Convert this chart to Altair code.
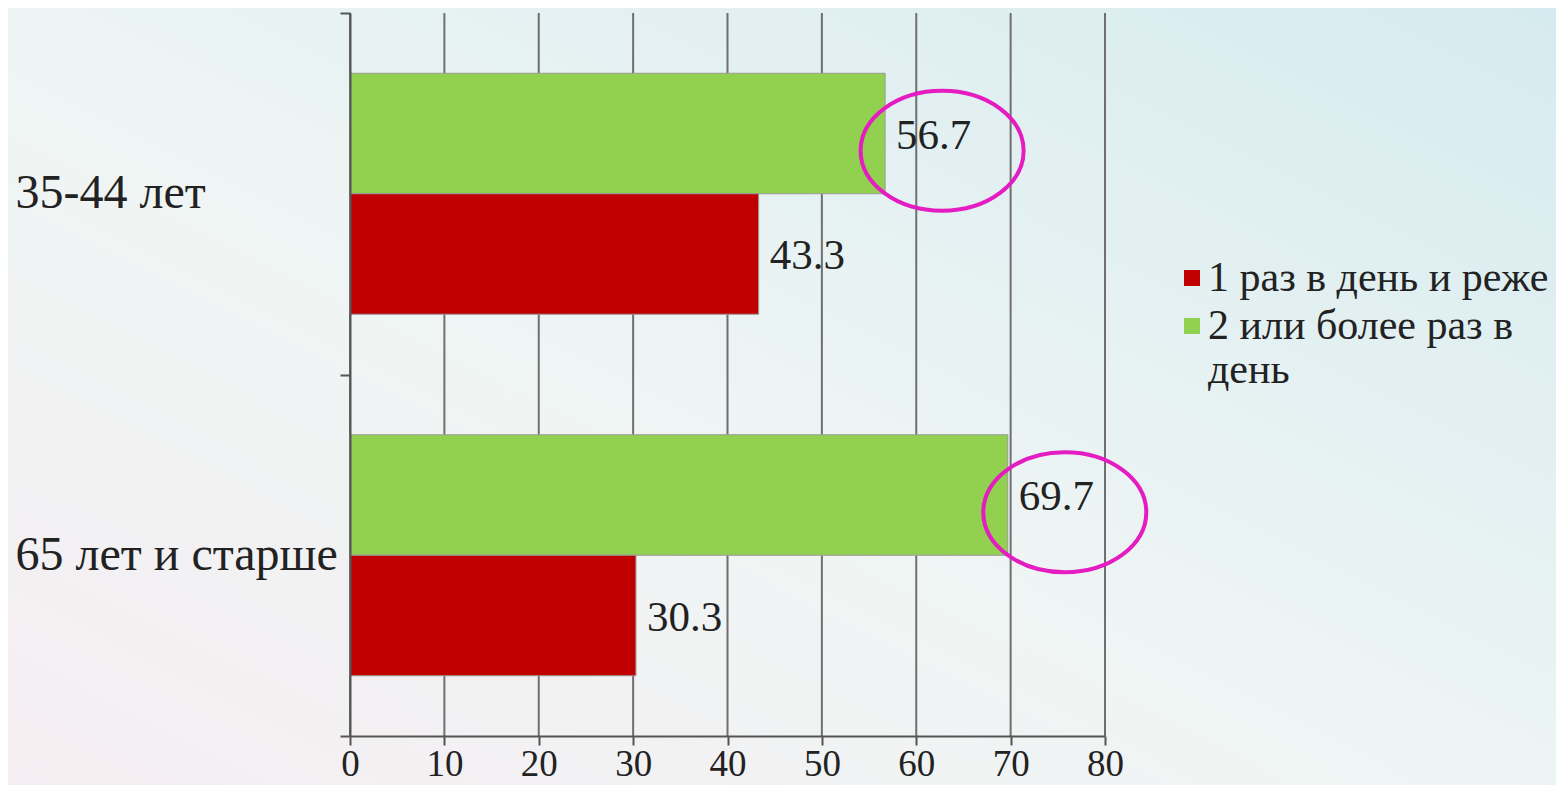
import altair as alt
import pandas as pd

categories = ["35-44 лет", "65 лет и старше"]
series = ["1 раз в день и реже", "2 или более раз в день"]
values_once = [43.3, 30.3]
values_twice = [56.7, 69.7]
x_ticks = [0, 10, 20, 30, 40, 50, 60, 70, 80]
highlighted = "2 или более раз в день"

rows = []
for i, c in enumerate(categories):
    rows.append({"cat": c, "series": series[1], "value": values_twice[i]})
    rows.append({"cat": c, "series": series[0], "value": values_once[i]})
df = pd.DataFrame(rows)
grid_df = pd.DataFrame({"value": x_ticks})
bg_df = pd.DataFrame({"a": [0]})

FONT = "Liberation Serif, Times New Roman, DejaVu Serif, serif"
W, H = 755, 723

x_scale = alt.Scale(domain=[0, 80], nice=False, zero=True)
y_scale = alt.Scale(domain=categories, paddingInner=0, paddingOuter=0)
yoff_scale = alt.Scale(domain=[series[1], series[0]], paddingInner=0, paddingOuter=0.5)
color_scale = alt.Scale(domain=series, range=["#c00000", "#92d050"])

x_axis = alt.Axis(
    values=x_ticks, grid=False, title=None, zindex=1,
    domainColor="#555555", domainWidth=2, tickColor="#555555", tickWidth=2,
    tickSize=9, labelFont=FONT, labelFontSize=37, labelColor="#222222",
    labelPadding=1, labelFlush=False,
)
y_axis = alt.Axis(
    title=None, zindex=1, tickBand="extent", grid=False,
    domainColor="#555555", domainWidth=2, tickColor="#555555", tickWidth=2,
    tickSize=10, labelFont=FONT, labelFontSize=48, labelColor="#222222",
    labelAlign="left", labelPadding=325, labelLimit=0,
)

X = alt.X("value:Q", scale=x_scale, axis=x_axis)
Y = alt.Y("cat:N", scale=y_scale, sort=categories, axis=y_axis)
YO = alt.YOffset("series:N", scale=yoff_scale)

bg = alt.Chart(bg_df).mark_rect(
    color=alt.LinearGradient(
        gradient="linear",
        stops=[
            alt.GradientStop(color="#f5eef2", offset=0),
            alt.GradientStop(color="#eff5f4", offset=0.45),
            alt.GradientStop(color="#d6ebef", offset=1),
        ],
        x1=0, y1=1, x2=1, y2=0,
    )
).encode(
    x=alt.value(-342), x2=alt.value(1206), y=alt.value(-5), y2=alt.value(772)
)

grid = alt.Chart(grid_df).mark_rule(color="#6f6f6f", strokeWidth=2).encode(x=X)

bars = alt.Chart(df).mark_bar(stroke="#9a9a9a", strokeWidth=1).encode(
    x=X,
    y=Y,
    yOffset=YO,
    color=alt.Color(
        "series:N", scale=color_scale,
        legend=alt.Legend(
            title=None, orient="none", legendX=821, legendY=244,
            symbolType="square", symbolSize=256, symbolStrokeWidth=0,
            labelFont=FONT, labelFontSize=42, labelColor="#222222",
            labelOffset={"expr": "-5"}, rowPadding=6, labelLimit=0,
            labelExpr="datum.label == '2 или более раз в день' ? ['2 или более раз в', 'день'] : datum.label",
        ),
    ),
)

labels = alt.Chart(df).mark_text(
    align="left", baseline="middle", dx=11, dy=2, font=FONT, fontSize=43, color="#222222"
).encode(
    x=X, y=Y, yOffset=YO,
    text=alt.Text("value:Q", format=".1f"),
)

ellipse_path = (
    "M -1 0 C -1 -0.406 -0.552 -0.736 0 -0.736 C 0.552 -0.736 1 -0.406 1 0 "
    "C 1 0.406 0.552 0.736 0 0.736 C -0.552 0.736 -1 0.406 -1 0 Z"
)
ellipses = alt.Chart(df).transform_filter(
    alt.datum.series == highlighted
).mark_point(
    shape=ellipse_path, size=163 * 163, filled=False, stroke="#e41cc2",
    strokeWidth=4, opacity=1, xOffset=57, yOffset=-43,
).encode(x=X, y=Y)

chart = alt.layer(bg, grid, bars, labels, ellipses).properties(
    width=W, height=H,
    autosize=alt.AutoSizeParams(type="none"),
    padding={"left": 342, "top": 5, "right": 451, "bottom": 49},
).configure_view(stroke=None).configure(background="white")

chart.save("out.html", embed_options={"renderer": "svg", "actions": False})
